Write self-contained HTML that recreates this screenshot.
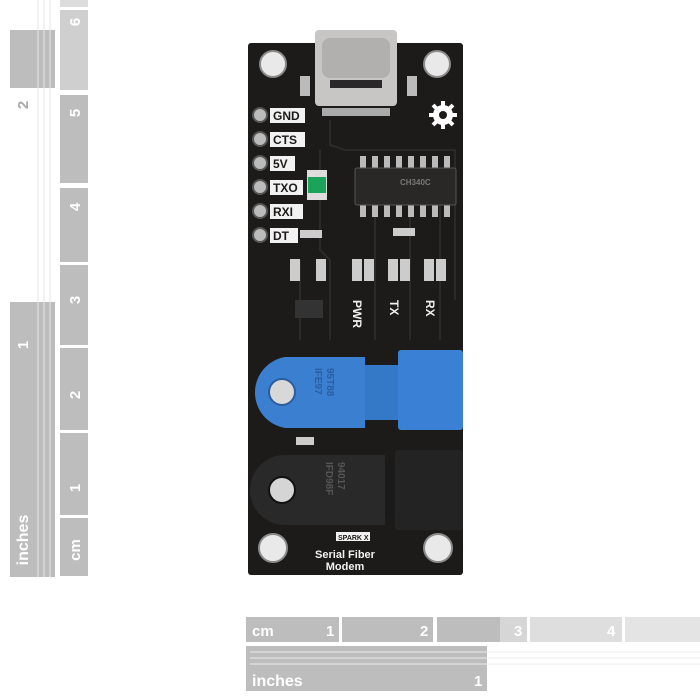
<!DOCTYPE html>
<html><head><style>
body{margin:0;background:#fff;}
svg{display:block}
text{font-family:"Liberation Sans",sans-serif;font-weight:bold}
</style></head><body>
<svg width="700" height="700" viewBox="0 0 700 700" xmlns="http://www.w3.org/2000/svg">
<!-- left ruler -->
<rect x="60" y="0" width="28" height="7" fill="#dcdcdc"/>
<rect x="60" y="10" width="28" height="80" fill="#cfcfcf"/>
<rect x="60" y="95" width="28" height="88" fill="#bdbdbd"/>
<rect x="60" y="188" width="28" height="74" fill="#bdbdbd"/>
<rect x="60" y="265" width="28" height="80" fill="#bdbdbd"/>
<rect x="60" y="348" width="28" height="82" fill="#bdbdbd"/>
<rect x="60" y="433" width="28" height="82" fill="#bdbdbd"/>
<rect x="60" y="518" width="28" height="58" fill="#bdbdbd"/>
<g fill="#fff" font-size="15">
<text transform="translate(80,22) rotate(-90)" text-anchor="middle">6</text>
<text transform="translate(80,113) rotate(-90)" text-anchor="middle">5</text>
<text transform="translate(80,207) rotate(-90)" text-anchor="middle">4</text>
<text transform="translate(80,300) rotate(-90)" text-anchor="middle">3</text>
<text transform="translate(80,395) rotate(-90)" text-anchor="middle">2</text>
<text transform="translate(80,488) rotate(-90)" text-anchor="middle">1</text>
<text transform="translate(80,550) rotate(-90)" text-anchor="middle" font-weight="normal">cm</text>
</g>
<rect x="10" y="30" width="45" height="58" fill="#bdbdbd"/>
<rect x="10" y="302" width="45" height="275" fill="#bdbdbd"/>
<g stroke="#e6e6e6" stroke-width="1">
<line x1="38" y1="0" x2="38" y2="577"/><line x1="44" y1="0" x2="44" y2="577"/><line x1="50" y1="0" x2="50" y2="577"/>
</g>
<text transform="translate(28,105) rotate(-90)" text-anchor="middle" fill="#aaa" font-size="15">2</text>
<text transform="translate(28,345) rotate(-90)" text-anchor="middle" fill="#fff" font-size="15">1</text>
<text transform="translate(28,540) rotate(-90)" text-anchor="middle" fill="#fff" font-size="16" font-weight="normal">inches</text>
<!-- bottom ruler -->
<rect x="246" y="617" width="93" height="25" fill="#bdbdbd"/>
<rect x="342" y="617" width="91" height="25" fill="#bdbdbd"/>
<rect x="437" y="617" width="63" height="25" fill="#bdbdbd"/>
<rect x="500" y="617" width="27" height="25" fill="#d6d6d6"/>
<rect x="530" y="617" width="92" height="25" fill="#dedede"/>
<rect x="625" y="617" width="75" height="25" fill="#e4e4e4"/>
<g fill="#fff" font-size="15">
<text x="252" y="636" font-weight="normal">cm</text>
<text x="326" y="636">1</text><text x="420" y="636">2</text><text x="514" y="636">3</text><text x="607" y="636">4</text>
</g>
<rect x="246" y="646" width="241" height="45" fill="#bdbdbd"/>
<g stroke="#ececec"><line x1="250" y1="652" x2="700" y2="652"/><line x1="250" y1="658" x2="700" y2="658"/><line x1="250" y1="664" x2="700" y2="664"/></g>
<text x="252" y="686" fill="#fff" font-size="16" font-weight="normal">inches</text>
<text x="474" y="686" fill="#fff" font-size="15">1</text>
<!-- board -->
<rect x="248" y="43" width="215" height="532" rx="3" fill="#1d1b1a"/>
<g fill="#e9e9e9" stroke="#8a8a8a" stroke-width="2">
<circle cx="273" cy="64" r="13"/><circle cx="437" cy="64" r="13"/>
<circle cx="273" cy="548" r="14"/><circle cx="438" cy="548" r="14"/>
</g>
<!-- traces -->
<g stroke="#2c2a28" stroke-width="2" fill="none">
<path d="M330 120 L330 145 L345 150 L455 150 L455 300"/>
<path d="M320 150 L320 250 L330 260 L330 340"/>
<path d="M375 205 L375 340"/><path d="M410 205 L410 340"/><path d="M440 205 L440 340"/>
<path d="M300 260 L300 340"/>
</g>
<!-- USB-C -->
<rect x="315" y="30" width="82" height="76" rx="4" fill="#c8c6c4"/>
<rect x="322" y="38" width="68" height="40" rx="8" fill="#b2b0ae"/>
<rect x="330" y="80" width="52" height="8" fill="#2a2828"/>
<rect x="322" y="108" width="68" height="8" fill="#aaa"/>
<rect x="300" y="76" width="10" height="20" fill="#bbb"/><rect x="407" y="76" width="10" height="20" fill="#bbb"/>
<!-- gear -->
<circle cx="443" cy="115" r="10" fill="#fff"/><circle cx="443" cy="115" r="4" fill="#1d1b1a"/>
<g stroke="#fff" stroke-width="4"><line x1="443" y1="101" x2="443" y2="129"/><line x1="429" y1="115" x2="457" y2="115"/><line x1="433" y1="105" x2="453" y2="125"/><line x1="453" y1="105" x2="433" y2="125"/></g>
<circle cx="443" cy="115" r="4" fill="#1d1b1a"/>
<!-- pins -->
<g fill="#bbb" stroke="#555" stroke-width="2">
<circle cx="260" cy="115" r="7"/><circle cx="260" cy="139" r="7"/><circle cx="260" cy="163" r="7"/>
<circle cx="260" cy="187" r="7"/><circle cx="260" cy="211" r="7"/><circle cx="260" cy="235" r="7"/>
</g>
<g fill="#f2f2f2">
<rect x="270" y="108" width="35" height="15"/><rect x="270" y="132" width="35" height="15"/><rect x="270" y="156" width="25" height="15"/>
<rect x="270" y="180" width="33" height="15"/><rect x="270" y="204" width="33" height="15"/><rect x="270" y="228" width="28" height="15"/>
</g>
<g fill="#1d1b1a" font-size="12">
<text x="273" y="120">GND</text><text x="273" y="144">CTS</text><text x="273" y="168">5V</text>
<text x="273" y="192">TXO</text><text x="273" y="216">RXI</text><text x="273" y="240">DT</text>
</g>
<!-- green fuse -->
<rect x="307" y="170" width="20" height="30" fill="#ddd"/><rect x="308" y="177" width="18" height="16" fill="#1ba35a"/>
<!-- IC -->
<g fill="#bbb">
<rect x="360" y="156" width="6" height="12"/><rect x="372" y="156" width="6" height="12"/><rect x="384" y="156" width="6" height="12"/><rect x="396" y="156" width="6" height="12"/>
<rect x="408" y="156" width="6" height="12"/><rect x="420" y="156" width="6" height="12"/><rect x="432" y="156" width="6" height="12"/><rect x="444" y="156" width="6" height="12"/>
<rect x="360" y="205" width="6" height="12"/><rect x="372" y="205" width="6" height="12"/><rect x="384" y="205" width="6" height="12"/><rect x="396" y="205" width="6" height="12"/>
<rect x="408" y="205" width="6" height="12"/><rect x="420" y="205" width="6" height="12"/><rect x="432" y="205" width="6" height="12"/><rect x="444" y="205" width="6" height="12"/>
</g>
<rect x="355" y="168" width="101" height="37" rx="2" fill="#2a2827" stroke="#555"/>
<text x="400" y="185" fill="#777" font-size="8" font-weight="normal">CH340C</text>
<!-- small parts -->
<g fill="#ccc">
<rect x="300" y="230" width="22" height="8"/><rect x="393" y="228" width="22" height="8"/>
<rect x="290" y="259" width="10" height="22"/><rect x="316" y="259" width="10" height="22"/>
<rect x="352" y="259" width="10" height="22"/><rect x="364" y="259" width="10" height="22"/>
<rect x="388" y="259" width="10" height="22"/><rect x="400" y="259" width="10" height="22"/>
<rect x="424" y="259" width="10" height="22"/><rect x="436" y="259" width="10" height="22"/>
<rect x="295" y="300" width="28" height="18" fill="#333"/>
</g>
<g fill="#f0f0f0" font-size="12">
<text transform="translate(353,300) rotate(90)">PWR</text>
<text transform="translate(390,300) rotate(90)">TX</text>
<text transform="translate(426,300) rotate(90)">RX</text>
</g>
<!-- blue connector -->
<path d="M285 357 L365 357 L365 428 L285 428 A36 36 0 0 1 285 357 Z" fill="#3a7fd0"/>
<circle cx="282" cy="392" r="13" fill="#d8d8d8" stroke="#2b5d9c" stroke-width="2"/>
<rect x="365" y="365" width="35" height="55" fill="#3478c8"/>
<rect x="398" y="350" width="65" height="80" rx="3" fill="#3a80d4"/>
<text transform="translate(327,368) rotate(90)" fill="#2a5ea2" font-size="10" font-weight="normal">95T88</text>
<text transform="translate(315,368) rotate(90)" fill="#2a5ea2" font-size="10" font-weight="normal">IFE97</text>
<!-- black connector -->
<path d="M285 455 L385 455 L385 525 L285 525 A35 35 0 0 1 285 455 Z" fill="#2a2929"/>
<circle cx="282" cy="490" r="13" fill="#d5d5d5" stroke="#111" stroke-width="2"/>
<rect x="385" y="462" width="12" height="56" fill="#1a1a1a"/>
<rect x="395" y="450" width="68" height="80" rx="3" fill="#232323"/>
<text transform="translate(338,462) rotate(90)" fill="#555" font-size="10" font-weight="normal">94017</text>
<text transform="translate(326,462) rotate(90)" fill="#555" font-size="10" font-weight="normal">IFD98F</text>
<rect x="296" y="437" width="18" height="8" fill="#ccc"/>
<!-- logo/text -->
<rect x="336" y="532" width="34" height="9" fill="#f2f2f2"/>
<text x="338" y="540" fill="#1d1b1a" font-size="7">SPARK X</text>
<text x="345" y="558" fill="#f2f2f2" font-size="11" text-anchor="middle">Serial Fiber</text>
<text x="345" y="570" fill="#f2f2f2" font-size="11" text-anchor="middle">Modem</text>
</svg>
</body></html>
